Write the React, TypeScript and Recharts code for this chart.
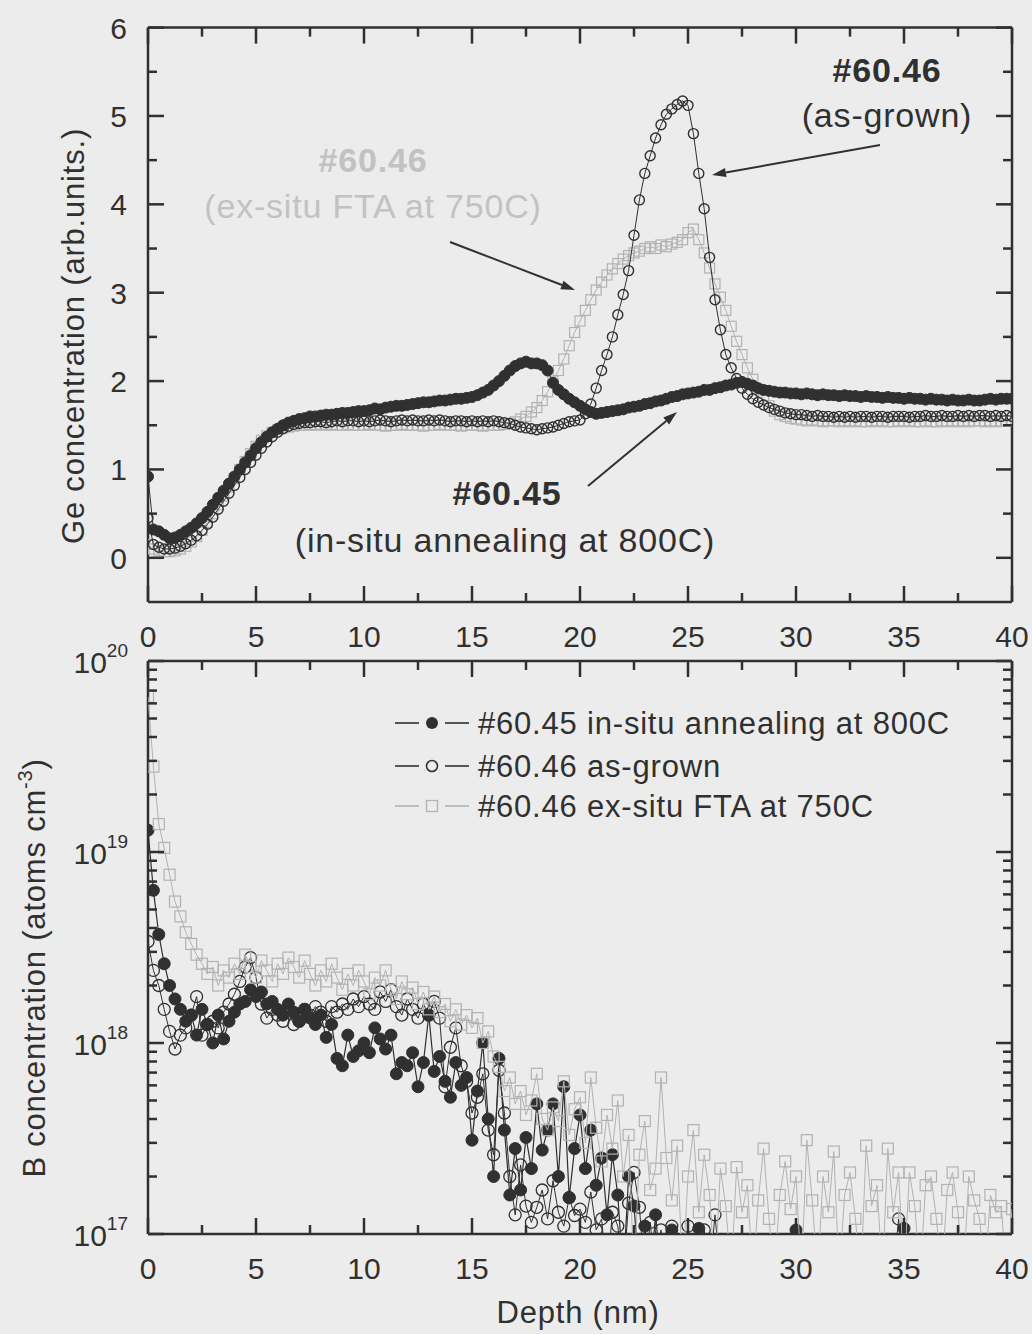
import { ScatterChart, Scatter, XAxis, YAxis } from 'recharts'

// depth grid of the SIMS profiles (nm), one point every 0.25 nm
const DEPTH_STEP = 0.25
const depth = Array.from({ length: 161 }, (_, i) => i * DEPTH_STEP)

// ---- Ge profiles (arb. units) ----
const geInSitu = [
  0.92, 0.32, 0.3, 0.26, 0.22, 0.23, 0.26, 0.3, 0.34, 0.39, 0.45, 0.52, 0.6, 0.68, 0.76, 0.84, 0.92, 1.0, 1.08, 1.16,
  1.24, 1.31, 1.37, 1.42, 1.46, 1.5, 1.53, 1.55, 1.57, 1.58, 1.6, 1.6, 1.61, 1.62, 1.62, 1.63, 1.64, 1.64, 1.65, 1.66,
  1.66, 1.67, 1.69, 1.68, 1.7, 1.71, 1.72, 1.72, 1.73, 1.74, 1.75, 1.76, 1.76, 1.77, 1.78, 1.78, 1.79, 1.8, 1.8, 1.81,
  1.82, 1.84, 1.87, 1.9, 1.95, 2.0, 2.06, 2.12, 2.17, 2.2, 2.22, 2.2, 2.2, 2.18, 2.12, 1.98, 1.9, 1.85, 1.8, 1.76,
  1.72, 1.68, 1.65, 1.63, 1.64, 1.65, 1.66, 1.67, 1.68, 1.7, 1.71, 1.72, 1.74, 1.75, 1.77, 1.78, 1.8, 1.82, 1.83, 1.85,
  1.86, 1.87, 1.88, 1.9, 1.9, 1.92, 1.93, 1.95, 1.96, 1.98, 1.99, 1.97, 1.95, 1.92, 1.9, 1.89, 1.88, 1.87, 1.87, 1.86,
  1.86, 1.85, 1.86, 1.85, 1.84, 1.85, 1.84, 1.84, 1.83, 1.84, 1.83, 1.83, 1.82, 1.83, 1.82, 1.82, 1.81, 1.82, 1.81, 1.81,
  1.8, 1.81, 1.8, 1.8, 1.79, 1.8, 1.79, 1.79, 1.78, 1.79, 1.78, 1.78, 1.79, 1.78, 1.78, 1.79, 1.8, 1.79, 1.8, 1.8, 1.8,
]

const geAsGrown = [
  0.45, 0.15, 0.12, 0.1, 0.1, 0.11, 0.13, 0.16, 0.2, 0.25, 0.31, 0.38, 0.46, 0.55, 0.64, 0.73, 0.82, 0.91, 1.0, 1.08,
  1.16, 1.24, 1.31, 1.37, 1.42, 1.46, 1.49, 1.51, 1.52, 1.53, 1.53, 1.54, 1.54, 1.53, 1.54, 1.55, 1.54, 1.55, 1.55, 1.54,
  1.55, 1.54, 1.55, 1.56, 1.55, 1.54, 1.55, 1.56, 1.55, 1.56, 1.55, 1.55, 1.56, 1.55, 1.56, 1.55, 1.54, 1.55, 1.55, 1.54,
  1.55, 1.54, 1.55, 1.54, 1.55, 1.54, 1.53, 1.52, 1.5, 1.48, 1.47, 1.46, 1.45, 1.46, 1.47, 1.48, 1.5, 1.52, 1.54, 1.55,
  1.56, 1.63, 1.74, 1.92, 2.12, 2.3, 2.5, 2.75, 2.98, 3.25, 3.65, 4.05, 4.35, 4.55, 4.75, 4.9, 5.02, 5.08, 5.13, 5.17,
  5.12, 4.8, 4.35, 3.95, 3.4, 2.92, 2.58, 2.3, 2.15, 2.03, 1.92, 1.85, 1.8, 1.76, 1.73, 1.7, 1.68, 1.66, 1.64, 1.63,
  1.62, 1.62, 1.61, 1.6, 1.61, 1.6, 1.6, 1.59, 1.6, 1.59, 1.6, 1.59, 1.6, 1.6, 1.59, 1.6, 1.6, 1.59, 1.6, 1.6,
  1.6, 1.59, 1.6, 1.6, 1.61, 1.6, 1.6, 1.61, 1.6, 1.6, 1.61, 1.6, 1.61, 1.6, 1.61, 1.61, 1.6, 1.61, 1.6, 1.61, 1.6,
]

const geExSitu = [
  0.15, 0.1, 0.08, 0.07, 0.07, 0.08, 0.1, 0.13, 0.18, 0.24, 0.31, 0.4, 0.5, 0.6, 0.7, 0.8, 0.9, 1.0, 1.09, 1.18,
  1.26, 1.33, 1.38, 1.42, 1.45, 1.47, 1.48, 1.49, 1.5, 1.5, 1.51, 1.5, 1.51, 1.5, 1.51, 1.5, 1.5, 1.51, 1.5, 1.5,
  1.5, 1.51, 1.5, 1.5, 1.49, 1.5, 1.5, 1.51, 1.5, 1.5, 1.5, 1.49, 1.5, 1.5, 1.51, 1.5, 1.5, 1.5, 1.49, 1.5,
  1.5, 1.5, 1.49, 1.5, 1.5, 1.5, 1.51, 1.52, 1.54, 1.57, 1.6, 1.65, 1.7, 1.78, 1.88, 2.0, 2.12, 2.25, 2.4, 2.55,
  2.68, 2.8, 2.92, 3.03, 3.12, 3.2, 3.27, 3.33, 3.38, 3.42, 3.45, 3.47, 3.5, 3.52, 3.5, 3.54, 3.52, 3.55, 3.57, 3.6,
  3.68, 3.72, 3.6, 3.45, 3.28, 3.1, 2.95, 2.8, 2.62, 2.45, 2.3, 2.15, 2.02, 1.9, 1.8, 1.72, 1.66, 1.62, 1.6, 1.58,
  1.57, 1.56, 1.55, 1.56, 1.55, 1.54, 1.55, 1.55, 1.54, 1.55, 1.54, 1.55, 1.54, 1.54, 1.55, 1.54, 1.55, 1.54, 1.54, 1.55,
  1.54, 1.55, 1.54, 1.54, 1.55, 1.54, 1.54, 1.55, 1.54, 1.55, 1.54, 1.55, 1.54, 1.55, 1.55, 1.54, 1.55, 1.54, 1.55, 1.55, 1.55,
]

// ---- B profiles (atoms cm-3); 6e16 = below the detection floor ----
const bInSitu = [
  1.3e19, 6.3e18, 3.7e18, 2.6e18, 2.0e18, 1.7e18, 1.5e18, 1.3e18, 1.4e18, 1.1e18, 1.5e18, 1.25e18, 1.0e18, 1.4e18, 1.05e18, 1.3e18, 1.45e18, 1.6e18, 1.65e18, 1.9e18,
  1.75e18, 1.85e18, 1.6e18, 1.65e18, 1.5e18, 1.4e18, 1.6e18, 1.45e18, 1.3e18, 1.5e18, 1.35e18, 1.25e18, 1.4e18, 1.07e18, 1.25e18, 8.3e17, 7.6e17, 1.1e18, 8.5e17, 9.1e17,
  1.0e18, 8.9e17, 1.2e18, 1.05e18, 9.3e17, 1.1e18, 6.9e17, 7.9e17, 7.6e17, 8.9e17, 5.9e17, 7.9e17, 1.4e18, 7.1e17, 8.5e17, 6.3e17, 5.2e17, 7.9e17, 6.0e17, 6.6e17,
  3.1e17, 5.6e17, 1.0e18, 4.0e17, 2.0e17, 8.3e17, 3.5e17, 1.6e17, 2.8e17, 1.7e17, 3.2e17, 2.2e17, 4.8e17, 2.75e17, 3.5e17, 4.8e17, 2.0e17, 5.9e17, 1.55e17, 2.8e17,
  4.2e17, 2.2e17, 3.5e17, 1.8e17, 2.5e17, 1.26e17, 2.6e17, 1.6e17, 6e16, 2.0e17, 1.4e17, 6e16, 1.1e17, 6e16, 1.26e17, 6e16, 6e16, 1.05e17, 6e16, 6e16,
  6e16, 6e16, 1.07e17, 6e16, 6e16, 6e16, 6e16, 6e16, 6e16, 6e16, 6e16, 6e16, 6e16, 6e16, 6e16, 6e16, 6e16, 6e16, 6e16, 6e16,
  1.05e17, 6e16, 6e16, 6e16, 6e16, 6e16, 6e16, 6e16, 6e16, 6e16, 6e16, 6e16, 6e16, 6e16, 6e16, 6e16, 6e16, 6e16, 6e16, 6e16,
  1.07e17, 6e16, 6e16, 6e16, 6e16, 6e16, 6e16, 6e16, 6e16, 6e16, 6e16, 6e16, 6e16, 6e16, 6e16, 6e16, 6e16, 6e16, 6e16, 6e16, 6e16,
]

const bAsGrown = [
  3.4e18, 2.4e18, 2.0e18, 1.5e18, 1.15e18, 9.3e17, 1.1e18, 1.2e18, 1.4e18, 1.75e18, 1.1e18, 1.25e18, 1.3e18, 1.2e18, 1.45e18, 1.6e18, 1.8e18, 2.1e18, 2.5e18, 2.8e18,
  2.2e18, 1.6e18, 1.35e18, 1.5e18, 1.4e18, 1.3e18, 1.45e18, 1.25e18, 1.3e18, 1.5e18, 1.4e18, 1.55e18, 1.45e18, 1.3e18, 1.55e18, 1.45e18, 1.6e18, 1.5e18, 1.7e18, 1.55e18,
  1.75e18, 1.6e18, 1.5e18, 1.85e18, 1.65e18, 1.9e18, 1.55e18, 1.4e18, 1.7e18, 1.5e18, 1.35e18, 1.6e18, 1.4e18, 1.65e18, 1.35e18, 5.9e17, 9.5e17, 1.2e18, 7.6e17, 6.3e17,
  4.3e17, 5.2e17, 6.9e17, 3.5e17, 2.6e17, 7.2e17, 4.3e17, 2.0e17, 1.26e17, 2.3e17, 1.4e17, 1.15e17, 1.38e17, 1.7e17, 1.2e17, 1.9e17, 1.3e17, 1.1e17, 1.55e17, 1.25e17,
  1.35e17, 1.15e17, 1.66e17, 1.05e17, 1.2e17, 6e16, 1.3e17, 1.1e17, 6e16, 1.45e17, 2.1e17, 1.38e17, 6e16, 1.15e17, 6e16, 1.05e17, 6e16, 1.1e17, 6e16, 6e16,
  1.1e17, 6e16, 6e16, 1.05e17, 6e16, 1.26e17, 6e16, 6e16, 6e16, 6e16, 6e16, 6e16, 6e16, 6e16, 6e16, 6e16, 6e16, 6e16, 6e16, 6e16,
  6e16, 6e16, 6e16, 6e16, 6e16, 6e16, 6e16, 6e16, 6e16, 6e16, 6e16, 6e16, 6e16, 6e16, 6e16, 6e16, 6e16, 6e16, 6e16, 1.2e17,
  6e16, 6e16, 6e16, 6e16, 6e16, 6e16, 6e16, 6e16, 6e16, 6e16, 6e16, 6e16, 6e16, 6e16, 6e16, 6e16, 6e16, 6e16, 6e16, 6e16, 6e16,
]

const bExSitu = [
  6.5e19, 2.8e19, 1.4e19, 1.05e19, 7.6e18, 5.5e18, 4.6e18, 3.8e18, 3.3e18, 2.9e18, 2.6e18, 2.3e18, 2.5e18, 2.0e18, 2.4e18, 2.2e18, 2.6e18, 2.3e18, 2.9e18, 2.5e18,
  2.2e18, 2.7e18, 2.4e18, 2.1e18, 2.6e18, 2.3e18, 2.8e18, 2.5e18, 2.2e18, 2.7e18, 2.3e18, 2.0e18, 2.4e18, 2.1e18, 2.6e18, 2.2e18, 1.9e18, 2.3e18, 2.0e18, 2.4e18,
  2.1e18, 1.8e18, 2.2e18, 2.0e18, 2.4e18, 1.9e18, 1.7e18, 2.1e18, 1.8e18, 1.95e18, 1.6e18, 1.85e18, 1.5e18, 1.75e18, 1.45e18, 1.6e18, 1.3e18, 1.5e18, 1.25e18, 1.4e18,
  1.2e18, 1.35e18, 1.0e18, 1.15e18, 8.5e17, 7.5e17, 5.6e17, 6.6e17, 4.8e17, 5.6e17, 4.2e17, 5.0e17, 6.9e17, 4.0e17, 3.5e17, 4.6e17, 3.9e17, 6.3e17, 3.3e17, 4.5e17,
  5.2e17, 3.0e17, 6.6e17, 3.6e17, 2.4e17, 4.2e17, 2.8e17, 5.0e17, 2.0e17, 3.3e17, 6e16, 2.6e17, 3.9e17, 1.7e17, 2.2e17, 6.6e17, 2.5e17, 1.5e17, 2.9e17, 6e16,
  2.0e17, 3.5e17, 1.3e17, 2.6e17, 1.6e17, 6e16, 2.2e17, 1.4e17, 6e16, 2.24e17, 1.3e17, 1.8e17, 6e16, 1.5e17, 2.8e17, 1.2e17, 6e16, 1.6e17, 2.4e17, 1.35e17,
  2.0e17, 6e16, 3.1e17, 1.5e17, 6e16, 2.0e17, 1.3e17, 2.7e17, 6e16, 1.6e17, 2.1e17, 1.2e17, 6e16, 2.9e17, 1.4e17, 1.8e17, 6e16, 2.8e17, 1.3e17, 2.1e17,
  6e16, 2.1e17, 1.4e17, 6e16, 1.8e17, 2.0e17, 1.2e17, 6e16, 1.7e17, 2.1e17, 1.3e17, 6e16, 2.0e17, 1.5e17, 1.2e17, 6e16, 1.6e17, 1.3e17, 1.4e17, 6e16, 1.35e17,
]

// axis ticks
const depthTicks = [0, 2.5, 5, 7.5, 10, 12.5, 15, 17.5, 20, 22.5, 25, 27.5, 30, 32.5, 35, 37.5, 40]
const geTicks = [0, 0.5, 1, 1.5, 2, 2.5, 3, 3.5, 4, 4.5, 5, 5.5, 6]
const bTicks = [
  1e17, 2e17, 3e17, 4e17, 5e17, 6e17, 7e17, 8e17, 9e17,
  1e18, 2e18, 3e18, 4e18, 5e18, 6e18, 7e18, 8e18, 9e18,
  1e19, 2e19, 3e19, 4e19, 5e19, 6e19, 7e19, 8e19, 9e19, 1e20,
]

const INK = '#303030'
const LIGHT = '#b2b2b2'
const LIGHT_TEXT = '#c2c2c2'
const PAPER = '#ececec'
const FONT = '"Liberation Sans", Arial, Helvetica, sans-serif'
const MAJOR = 16
const MINOR = 9
const AXIS_W = 2.5

const toRows = (vals: number[]) => vals.map((v, i) => ({ d: depth[i], v }))

const isMajorDepth = (v: number) => Math.abs(v % 5) < 1e-6
const isInteger = (v: number) => Math.abs(v - Math.round(v)) < 1e-6
const isDecade = (v: number) => isInteger(Math.log10(v))

function DepthTick({ x, y, payload, side }: any) {
  const v = payload.value
  const major = isMajorDepth(v)
  const dir = side === 'top' ? 1 : -1
  return (
    <g>
      <line x1={x} x2={x} y1={y} y2={y + dir * (major ? MAJOR : MINOR)} stroke={INK} strokeWidth={AXIS_W} />
      {side === 'bottom' && major && (
        <text x={x} y={y + 45} textAnchor="middle" fontSize={30} fill={INK} fontFamily={FONT}>
          {v}
        </text>
      )}
    </g>
  )
}

function GeTick({ x, y, payload, side }: any) {
  const v = payload.value
  const major = isInteger(v)
  const dir = side === 'right' ? -1 : 1
  return (
    <g>
      <line x1={x} x2={x + dir * (major ? MAJOR : MINOR)} y1={y} y2={y} stroke={INK} strokeWidth={AXIS_W} />
      {side === 'left' && major && (
        <text x={x - 21} y={y + 11} textAnchor="end" fontSize={30} fill={INK} fontFamily={FONT}>
          {v}
        </text>
      )}
    </g>
  )
}

function LogTick({ x, y, payload, side }: any) {
  const v = payload.value
  const major = isDecade(v)
  const dir = side === 'right' ? -1 : 1
  return (
    <g>
      <line x1={x} x2={x + dir * (major ? MAJOR : MINOR)} y1={y} y2={y} stroke={INK} strokeWidth={AXIS_W} />
      {side === 'left' && major && (
        <text x={x - 20} y={y + 12} textAnchor="end" fill={INK} fontFamily={FONT}>
          <tspan fontSize={30}>10</tspan>
          <tspan fontSize={19} dy={-16}>
            {Math.round(Math.log10(v))}
          </tspan>
        </text>
      )}
    </g>
  )
}

const FilledDot = ({ cx, cy }: any) => <circle cx={cx} cy={cy} r={5.5} fill={INK} stroke={INK} strokeWidth={1} />
const OpenDot = ({ cx, cy }: any) => <circle cx={cx} cy={cy} r={5} fill="none" stroke={INK} strokeWidth={1.4} />
const OpenSquare = ({ cx, cy }: any) => (
  <rect x={cx - 5} y={cy - 5} width={10} height={10} fill="none" stroke={LIGHT} strokeWidth={1.2} />
)
const BigFilledDot = ({ cx, cy }: any) => <circle cx={cx} cy={cy} r={6} fill={INK} stroke={INK} strokeWidth={1} />
const BigOpenDot = ({ cx, cy }: any) => <circle cx={cx} cy={cy} r={6} fill="none" stroke={INK} strokeWidth={1.3} />
const BigOpenSquare = ({ cx, cy }: any) => (
  <rect x={cx - 5.5} y={cy - 5.5} width={11} height={11} fill="none" stroke={LIGHT} strokeWidth={1.2} />
)

function Arrow({ from, to }: { from: [number, number]; to: [number, number] }) {
  const [x1, y1] = from
  const [x2, y2] = to
  const a = Math.atan2(y2 - y1, x2 - x1)
  const len = 14
  const half = 4.5
  const bx = x2 - len * Math.cos(a)
  const by = y2 - len * Math.sin(a)
  const pts = `${x2},${y2} ${bx + half * Math.sin(a)},${by - half * Math.cos(a)} ${bx - half * Math.sin(a)},${by + half * Math.cos(a)}`
  return (
    <g>
      <line x1={x1} y1={y1} x2={bx} y2={by} stroke={INK} strokeWidth={2} />
      <polygon points={pts} fill={INK} />
    </g>
  )
}

function LegendRow({ y, kind, label }: { y: number; kind: 'filled' | 'open' | 'square'; label: string }) {
  const color = kind === 'square' ? LIGHT : INK
  return (
    <g>
      <line x1={395} x2={419} y1={y} y2={y} stroke={color} strokeWidth={1.6} />
      <line x1={445} x2={469} y1={y} y2={y} stroke={color} strokeWidth={1.6} />
      {kind === 'filled' && <circle cx={432} cy={y} r={6} fill={INK} />}
      {kind === 'open' && <circle cx={432} cy={y} r={5.5} fill="none" stroke={INK} strokeWidth={1.6} />}
      {kind === 'square' && <rect x={426.5} y={y - 5.5} width={11} height={11} fill="none" stroke={LIGHT} strokeWidth={1.3} />}
      <text x={478} y={y + 11} fontSize={31} letterSpacing={0.8} fill={INK} fontFamily={FONT}>
        {label}
      </text>
    </g>
  )
}

const W = 1032
const TOP_H = 670
const BOT_TOP = 640
const BOT_H = 694
// plot frames, page pixels
const PLOT_LEFT = 148
const PLOT_RIGHT = 1012
const GE_TOP = 27.6
const GE_BOTTOM = 602
const B_TOP = 661
const B_BOTTOM = 1234
// every axis takes 1px so that it gets drawn
const AX = 1

export default function App() {
  const axisLine = { stroke: INK, strokeWidth: AXIS_W }
  const common = { type: 'number' as const, interval: 0 as const, allowDataOverflow: true, tickSize: 0, tickMargin: 0, axisLine, tickLine: false }
  return (
    <div style={{ position: 'absolute', left: 0, top: 0, width: W, height: 1334, background: PAPER, fontFamily: FONT }}>
      {/* Ge concentration panel */}
      <div style={{ position: 'absolute', left: 0, top: 0 }}>
        <ScatterChart
          width={W}
          height={TOP_H}
          margin={{ top: GE_TOP - AX, right: W - PLOT_RIGHT - AX, bottom: TOP_H - GE_BOTTOM - AX, left: PLOT_LEFT - AX }}
        >
          <XAxis {...common} dataKey="d" domain={[0, 40]} ticks={depthTicks} height={AX} tick={<DepthTick side="bottom" />} />
          <XAxis {...common} xAxisId="top" orientation="top" dataKey="d" domain={[0, 40]} ticks={depthTicks} height={AX} tick={<DepthTick side="top" />} />
          <YAxis {...common} dataKey="v" domain={[-0.5, 6]} ticks={geTicks} width={AX} tick={<GeTick side="left" />} />
          <YAxis {...common} yAxisId="right" orientation="right" dataKey="v" domain={[-0.5, 6]} ticks={geTicks} width={AX} tick={<GeTick side="right" />} />
          <Scatter data={toRows(geExSitu)} line={{ stroke: LIGHT, strokeWidth: 1 }} shape={OpenSquare} isAnimationActive={false} />
          <Scatter data={toRows(geAsGrown)} line={{ stroke: INK, strokeWidth: 1 }} shape={OpenDot} isAnimationActive={false} />
          <Scatter data={toRows(geInSitu)} line={{ stroke: INK, strokeWidth: 1 }} shape={FilledDot} isAnimationActive={false} />
        </ScatterChart>
      </div>

      {/* B concentration panel */}
      <div style={{ position: 'absolute', left: 0, top: BOT_TOP }}>
        <ScatterChart
          width={W}
          height={BOT_H}
          margin={{ top: B_TOP - BOT_TOP - AX, right: W - PLOT_RIGHT - AX, bottom: BOT_TOP + BOT_H - B_BOTTOM - AX, left: PLOT_LEFT - AX }}
        >
          <XAxis {...common} dataKey="d" domain={[0, 40]} ticks={depthTicks} height={AX} tick={<DepthTick side="bottom" />} />
          <XAxis {...common} xAxisId="top" orientation="top" dataKey="d" domain={[0, 40]} ticks={depthTicks} height={AX} tick={<DepthTick side="top" />} />
          <YAxis {...common} dataKey="v" scale="log" domain={[1e17, 1e20]} ticks={bTicks} width={AX} tick={<LogTick side="left" />} />
          <YAxis {...common} yAxisId="right" orientation="right" dataKey="v" scale="log" domain={[1e17, 1e20]} ticks={bTicks} width={AX} tick={<LogTick side="right" />} />
          <Scatter data={toRows(bInSitu)} line={{ stroke: INK, strokeWidth: 1.2 }} shape={BigFilledDot} isAnimationActive={false} />
          <Scatter data={toRows(bAsGrown)} line={{ stroke: INK, strokeWidth: 1 }} shape={BigOpenDot} isAnimationActive={false} />
          <Scatter data={toRows(bExSitu)} line={{ stroke: LIGHT, strokeWidth: 1 }} shape={BigOpenSquare} isAnimationActive={false} />
        </ScatterChart>
      </div>

      {/* titles, annotations and legend */}
      <svg width={W} height={1334} style={{ position: 'absolute', left: 0, top: 0, pointerEvents: 'none' }} fontFamily={FONT}>
        <text x={84} y={336} transform="rotate(-90 84 336)" textAnchor="middle" fontSize={31} letterSpacing={0.8} fill={INK}>
          Ge concentration (arb.units.)
        </text>
        <text x={45} y={968} transform="rotate(-90 45 968)" textAnchor="middle" fontSize={31} letterSpacing={0.8} fill={INK}>
          B concentration (atoms cm<tspan fontSize={20} dy={-13}>-3</tspan>
          <tspan dy={13}>)</tspan>
        </text>
        <text x={578} y={1323} textAnchor="middle" fontSize={31} letterSpacing={0.8} fill={INK}>
          Depth (nm)
        </text>

        <text x={373} y={172} textAnchor="middle" fontSize={34} fontWeight="bold" letterSpacing={0.8} fill={LIGHT_TEXT}>
          #60.46
        </text>
        <text x={373} y={218} textAnchor="middle" fontSize={34} letterSpacing={0.8} fill={LIGHT_TEXT}>
          (ex-situ FTA at 750C)
        </text>
        <Arrow from={[450, 242]} to={[575, 290]} />

        <text x={887} y={82} textAnchor="middle" fontSize={34} fontWeight="bold" letterSpacing={0.8} fill={INK}>
          #60.46
        </text>
        <text x={887} y={127} textAnchor="middle" fontSize={34} letterSpacing={0.8} fill={INK}>
          (as-grown)
        </text>
        <Arrow from={[880, 145]} to={[712, 175]} />

        <text x={507} y={505} textAnchor="middle" fontSize={34} fontWeight="bold" letterSpacing={0.8} fill={INK}>
          #60.45
        </text>
        <text x={505} y={552} textAnchor="middle" fontSize={34} letterSpacing={0.8} fill={INK}>
          (in-situ annealing at 800C)
        </text>
        <Arrow from={[588, 486]} to={[677, 412]} />

        <LegendRow y={723} kind="filled" label="#60.45 in-situ annealing at 800C" />
        <LegendRow y={766} kind="open" label="#60.46 as-grown" />
        <LegendRow y={806} kind="square" label="#60.46 ex-situ FTA at 750C" />
      </svg>
    </div>
  )
}
